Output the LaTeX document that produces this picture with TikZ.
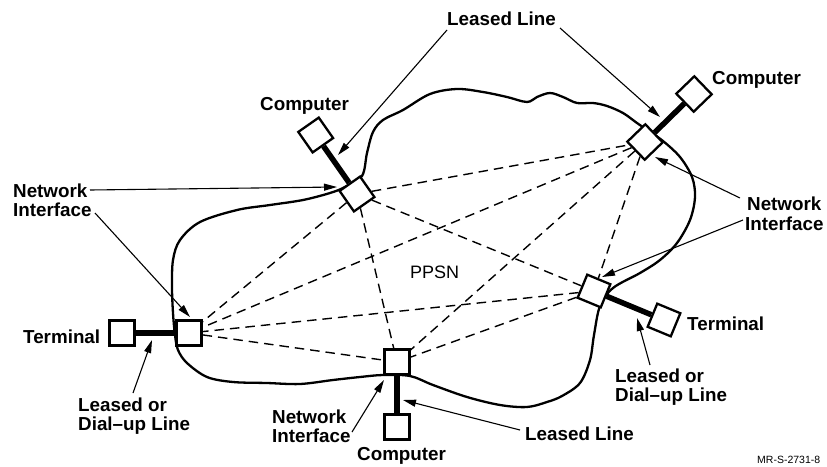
\documentclass[tikz,border=0pt]{standalone}
\usepackage{fontspec}
\setmainfont{Liberation Sans}
\usetikzlibrary{arrows.meta,calc}
\begin{document}
\begin{tikzpicture}[x=1pt,y=-1pt,
  box/.style={draw,line width=2.3pt,fill=white,minimum size=25pt,inner sep=0pt},
  link/.style={line width=5.5pt},
  mesh/.style={line width=1.4pt,dash pattern=on 9.5pt off 6pt},
  netline/.style={line width=2.3pt,line join=round},
  callout/.style={line width=1.1pt,-{Triangle[length=13pt,width=7pt]}},
  lbl/.style={font=\fontsize{18.8}{20}\selectfont\bfseries,anchor=base west,inner sep=0pt},
]
\path[use as bounding box] (0,0) rectangle (827,466);

% network cloud outline
\draw[netline] plot[smooth cycle,tension=0.55] coordinates {
  (362,176) (367,153) (373,132) (383,120) (403,110) (430,94) (457,89)
  (483,92) (507,97) (527,102) (537,97) (550,93) (563,97) (577,103)
  (593,103) (607,106) (623,113) (637,123) (650,132) (663,141) (680,157)
  (692,177) (695,197) (690,220) (677,243) (660,260) (640,273) (613,288)
  (600,306) (594,335) (590,360) (580,383) (562,396) (547,402) (527,407)
  (500,405) (467,397) (433,385) (410,376) (383,375) (360,377) (333,380)
  (300,384) (267,383) (233,382) (207,377) (187,363) (178,350) (175,335)
  (173,313) (172,287) (173,260) (180,240) (200,222) (237,210) (270,205)
  (303,200) (330,193) (345,187)};

% network interfaces
\node[box,rotate=35]    (niA) at (357,194) {};
\node[box,rotate=44]    (niB) at (645,142) {};
\node[box,rotate=-22.5] (niC) at (594,291) {};
\node[box]              (niD) at (189,333) {};
\node[box]              (niE) at (397,362) {};

% attached hosts and terminals
\node[box,rotate=35]    (hostA) at (315.7,135) {};
\node[box,rotate=44]    (hostB) at (694,94) {};
\node[box,rotate=-22.5] (termC) at (664,320) {};
\node[box]              (termD) at (122,333) {};
\node[box]              (hostE) at (397,427) {};

\draw[link] (niA) -- (hostA);
\draw[link] (niB) -- (hostB);
\draw[link] (niC) -- (termC);
\draw[link] (niD) -- (termD);
\draw[link] (niE) -- (hostE);

% virtual circuits between all interfaces
\foreach \a/\b in {niA/niB,niA/niC,niA/niD,niA/niE,niB/niC,niB/niD,niB/niE,niC/niD,niC/niE,niD/niE}
  \draw[mesh] (\a) -- (\b);

% labels
\node[lbl] (llTop) at (447,25) {Leased Line};
\node[lbl] (compA) at (260,110) {Computer};
\node[lbl] (compB) at (712,84) {Computer};
\node[lbl] (niLa) at (13,197) {Network};
\node[lbl] (niLb) at (13,216) {Interface};
\node[lbl] (niRa) at (747,210) {Network};
\node[lbl] (niRb) at (745,230) {Interface};
\node[lbl] (termR) at (687,330) {Terminal};
\node[lbl] (ldRa) at (615,382) {Leased or};
\node[lbl] (ldRb) at (615,401) {Dial–up Line};
\node[lbl] (termL) at (23,343) {Terminal};
\node[lbl] (ldLa) at (78,411) {Leased or};
\node[lbl] (ldLb) at (78,430) {Dial–up Line};
\node[lbl] (niBa) at (272,423) {Network};
\node[lbl] (niBb) at (272,442) {Interface};
\node[lbl] (compE) at (357,460) {Computer};
\node[lbl] (llBot) at (525,440) {Leased Line};
\node[font=\fontsize{18}{20}\selectfont,anchor=base west,inner sep=0pt] (ppsn) at (410,278) {PPSN};
\node[font=\fontsize{10.5}{12}\selectfont,anchor=base west,inner sep=0pt] (code) at (757,463) {MR-S-2731-8};

% callout ends
\coordinate (tA1) at (447,30);  \coordinate (pA1) at (338,155);
\coordinate (tB1) at (560,28);  \coordinate (pB1) at (660,117);
\coordinate (tA2) at (90,190);  \coordinate (pA2) at (337,187);
\coordinate (tD1) at (95,213);  \coordinate (pD1) at (190,317);
\coordinate (tB2) at (740,198); \coordinate (pB2) at (655,157);
\coordinate (tC1) at (743,220); \coordinate (pC1) at (602,277);
\coordinate (tC2) at (650,365); \coordinate (pC2) at (637,318);
\coordinate (tD2) at (133,393); \coordinate (pD2) at (152,340);
\coordinate (tE1) at (352,432); \coordinate (pE1) at (384,380);
\coordinate (tE2) at (520,430); \coordinate (pE2) at (403,400);

\draw[callout] (tA1) -- (pA1);
\draw[callout] (tB1) -- (pB1);
\draw[callout] (tA2) -- (pA2);
\draw[callout] (tD1) -- (pD1);
\draw[callout] (tB2) -- (pB2);
\draw[callout] (tC1) -- (pC1);
\draw[callout] (tC2) -- (pC2);
\draw[callout] (tD2) -- (pD2);
\draw[callout] (tE1) -- (pE1);
\draw[callout] (tE2) -- (pE2);
\end{tikzpicture}
\end{document}
